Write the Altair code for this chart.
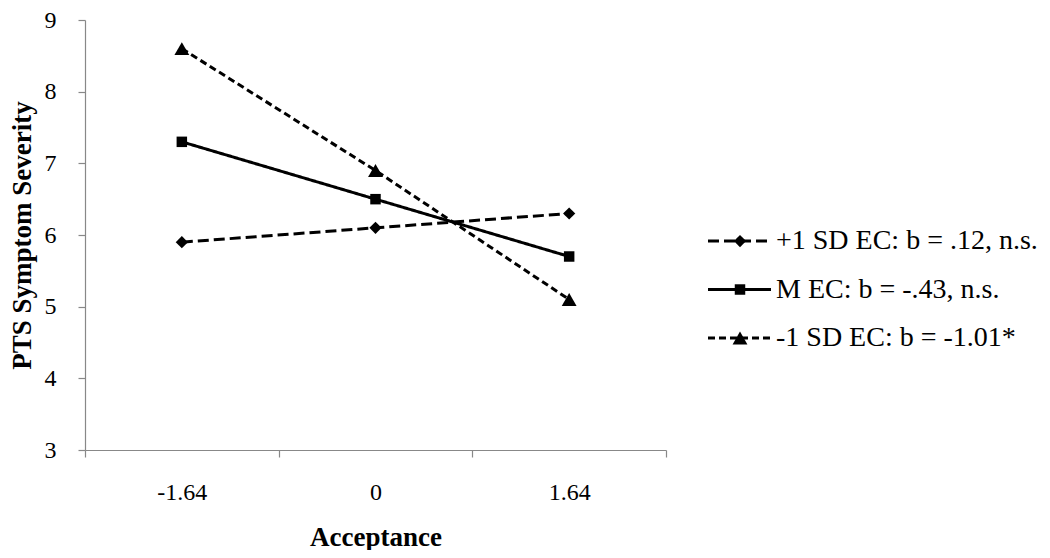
import altair as alt
import pandas as pd

categories = ["-1.64", "0", "1.64"]
series = ["+1 SD EC: b = .12, n.s.", "M EC: b = -.43, n.s.", "-1 SD EC: b = -1.01*"]
plus_sd = [5.9, 6.1, 6.3]
mean_ec = [7.3, 6.5, 5.7]
minus_sd = [8.6, 6.9, 5.1]
y_ticks = [3, 4, 5, 6, 7, 8, 9]

shapes = ["diamond", "square", "triangle-up"]
sizes = [150, 110, 220]
dashes = [[11, 5], [1, 0], [7, 4]]

rows = []
for s, vals in zip(series, [plus_sd, mean_ec, minus_sd]):
    for c, v in zip(categories, vals):
        rows.append({"Acceptance": c, "PTS": v, "series": s})
df = pd.DataFrame(rows)

FONT = "Liberation Serif"
PLOT_H = 430

x_enc = alt.X(
    "Acceptance:N",
    sort=categories,
    bandPosition=0.5,
    scale=alt.Scale(type="band", paddingInner=0, paddingOuter=0),
    axis=alt.Axis(
        title="Acceptance", tickBand="extent", labelAngle=0, labelPadding=23,
        titlePadding=20,
    ),
)
y_enc = alt.Y(
    "PTS:Q",
    scale=alt.Scale(domain=[3, 9], nice=False, zero=False),
    axis=alt.Axis(title="PTS Symptom Severity", values=y_ticks, grid=False,
                  labelPadding=22, titlePadding=8),
)

dash_scale = alt.Scale(domain=series, range=dashes)
shape_scale = alt.Scale(domain=series, range=shapes)
size_scale = alt.Scale(type="ordinal", domain=series, range=sizes)

lines = alt.Chart(df).mark_line(color="black", strokeWidth=3).encode(
    x=x_enc, y=y_enc,
    detail="series:N",
    strokeDash=alt.StrokeDash("series:N", scale=dash_scale, legend=None),
)
points = alt.Chart(df).mark_point(filled=True, color="black", opacity=1).encode(
    x=x_enc, y=y_enc,
    shape=alt.Shape("series:N", scale=shape_scale, legend=None),
    size=alt.Size("series:O", scale=size_scale, legend=None),
)
main = alt.layer(lines, points).properties(width=581, height=PLOT_H)

# legend panel
leg = pd.DataFrame({
    "series": series,
    "row": [0, 1, 2],
    "x1": [21] * 3,
    "x2": [84] * 3,
    "xm": [53] * 3,
    "xt": [89] * 3,
})
lx = alt.Scale(domain=[0, 340], nice=False, zero=False)
ly = alt.Scale(domain=[-4.557, 4.309], reverse=True, nice=False, zero=False)
leg_lines = alt.Chart(leg).mark_rule(color="black", strokeWidth=3).encode(
    x=alt.X("x1:Q", scale=lx, axis=None),
    x2="x2:Q",
    y=alt.Y("row:Q", scale=ly, axis=None),
    strokeDash=alt.StrokeDash("series:N", scale=dash_scale, legend=None),
)
leg_pts = alt.Chart(leg).mark_point(filled=True, color="black", opacity=1).encode(
    x=alt.X("xm:Q", scale=lx, axis=None),
    y=alt.Y("row:Q", scale=ly, axis=None),
    shape=alt.Shape("series:N", scale=shape_scale, legend=None),
    size=alt.Size("series:O", scale=size_scale, legend=None),
)
leg_text = alt.Chart(leg).mark_text(
    align="left", baseline="middle", font=FONT, fontSize=28, color="black"
).encode(
    x=alt.X("xt:Q", scale=lx, axis=None),
    y=alt.Y("row:Q", scale=ly, axis=None),
    text="series:N",
)
legend = alt.layer(leg_lines, leg_pts, leg_text).properties(width=340, height=PLOT_H)

chart = (
    alt.hconcat(main, legend, spacing=20)
    .configure(background="white", padding=0)
    .configure_view(stroke=None)
    .configure_axis(
        labelFont=FONT, titleFont=FONT, labelFontSize=24, titleFontSize=27,
        labelColor="black", titleColor="black", titleFontWeight="bold",
        domainColor="#888888", tickColor="#888888", tickSize=7,
        domainWidth=1.2, tickWidth=1.2,
    )
)

chart.save("out.html", embed_options={"renderer": "svg", "actions": False})
